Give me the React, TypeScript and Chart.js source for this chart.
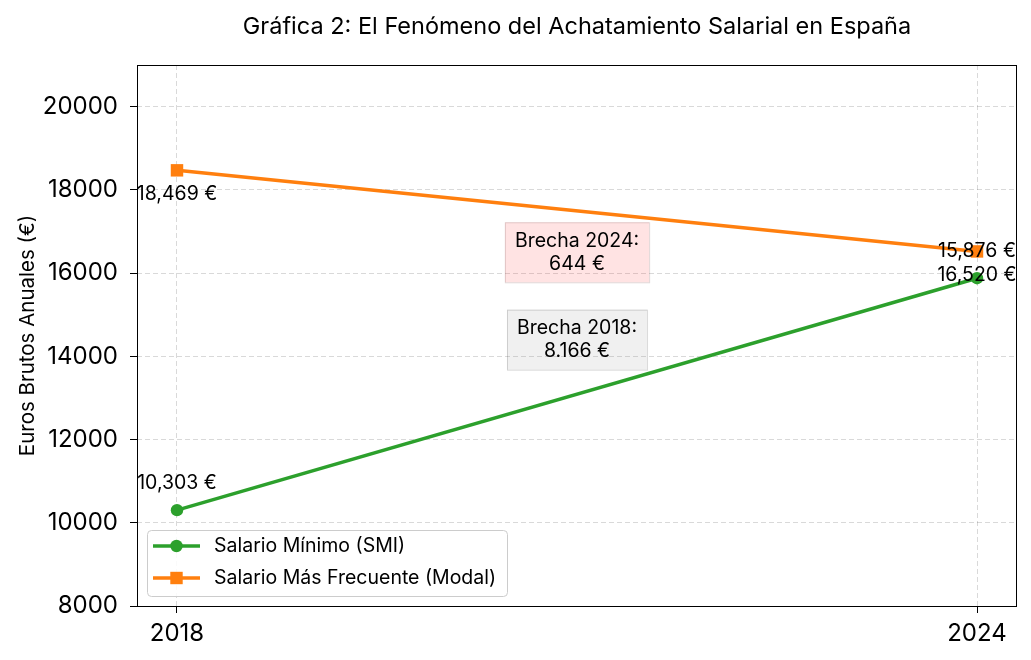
import { useEffect, useRef } from "react";
import { Chart, registerables } from "chart.js";

Chart.register(...registerables);

const FONT = "Inter, 'Noto Sans', 'DejaVu Sans', sans-serif";

const titleText = "Gráfica 2: El Fenómeno del Achatamiento Salarial en España";
const yAxisTitle = "Euros Brutos Anuales (€)";
const years = [2018, 2024];
const smiValues = [10303, 15876];
const modalValues = [18469, 16520];
const smiLabels = ["10,303 €", "15,876 €"];
const modalLabels = ["18,469 €", "16,520 €"];
const yTickValues = [8000, 10000, 12000, 14000, 16000, 18000, 20000];
const seriesNames = ["Salario Mínimo (SMI)", "Salario Más Frecuente (Modal)"];
const noteLines2024 = ["Brecha 2024:", "644 €"];
const noteLines2018 = ["Brecha 2018:", "8.166 €"];
const notePositions = [
  { x: 2021, y: 16500 },
  { x: 2021, y: 14400 },
];

const GREEN = "#2ca02c";
const ORANGE = "#ff7f0e";

const overlayPlugin = {
  id: "overlay",
  afterDatasetsDraw(chart: any) {
    const { ctx, chartArea: ca, scales } = chart;
    const xs = scales.x;
    const ys = scales.y;
    ctx.save();
    // frame
    ctx.strokeStyle = "#000";
    ctx.lineWidth = 1;
    ctx.strokeRect(Math.round(ca.left) + 0.5, Math.round(ca.top) + 0.5, Math.round(ca.right - ca.left) - 1, Math.round(ca.bottom - ca.top));

    // point labels
    ctx.fillStyle = "#000";
    ctx.font = `19.5px ${FONT}`;
    ctx.textAlign = "center";
    ctx.textBaseline = "middle";
    years.forEach((yr, i) => {
      const px = xs.getPixelForValue(yr);
      ctx.fillText(smiLabels[i], px, ys.getPixelForValue(smiValues[i]) - 27);
      ctx.fillText(modalLabels[i], px, ys.getPixelForValue(modalValues[i]) + 24);
    });

    // notes
    const notes = [
      { lines: noteLines2024, fill: "rgba(255,0,0,0.11)", stroke: "rgba(120,80,80,0.22)" },
      { lines: noteLines2018, fill: "rgba(128,128,128,0.12)", stroke: "rgba(0,0,0,0.15)" },
    ];
    ctx.font = `19.5px ${FONT}`;
    notes.forEach((n, i) => {
      const cx = xs.getPixelForValue(notePositions[i].x);
      const cy = ys.getPixelForValue(notePositions[i].y);
      const w = Math.max(...n.lines.map((l) => ctx.measureText(l).width)) + 20;
      const lh = 23;
      const h = lh * (n.lines.length - 1) + 37;
      ctx.fillStyle = n.fill;
      ctx.fillRect(cx - w / 2, cy - h / 2, w, h);
      ctx.strokeStyle = n.stroke;
      ctx.strokeRect(cx - w / 2 + 0.5, cy - h / 2 + 0.5, w, h);
      ctx.fillStyle = "#000";
      n.lines.forEach((l, k) => {
        ctx.fillText(l, cx, cy + (k - (n.lines.length - 1) / 2) * lh);
      });
    });

    // legend
    const lx = ca.left + 10;
    const lw = 360;
    const lh2 = 66;
    const ly = ca.bottom - 10 - lh2;
    ctx.fillStyle = "rgba(255,255,255,0.85)";
    ctx.strokeStyle = "#cccccc";
    ctx.lineWidth = 1;
    ctx.beginPath();
    ctx.roundRect(lx + 0.5, ly + 0.5, lw, lh2, 4);
    ctx.fill();
    ctx.stroke();
    ctx.font = `19.5px ${FONT}`;
    ctx.textAlign = "left";
    const colors = [GREEN, ORANGE];
    seriesNames.forEach((name, i) => {
      const ry = ly + 16 + i * 32;
      ctx.strokeStyle = colors[i];
      ctx.lineWidth = 3.5;
      ctx.beginPath();
      ctx.moveTo(lx + 6, ry);
      ctx.lineTo(lx + 53, ry);
      ctx.stroke();
      ctx.fillStyle = colors[i];
      if (i === 0) {
        ctx.beginPath();
        ctx.arc(lx + 29.5, ry, 6.2, 0, Math.PI * 2);
        ctx.fill();
      } else {
        ctx.fillRect(lx + 29.5 - 6.2, ry - 6.2, 12.4, 12.4);
      }
      ctx.fillStyle = "#000";
      ctx.fillText(name, lx + 67, ry);
    });

    // title
    ctx.font = `23.5px ${FONT}`;
    ctx.textAlign = "center";
    ctx.fillText(titleText, (ca.left + ca.right) / 2, 27);

    // y title
    ctx.font = `20.5px ${FONT}`;
    ctx.translate(28, (ca.top + ca.bottom) / 2);
    ctx.rotate(-Math.PI / 2);
    ctx.fillText(yAxisTitle, 0, 0);
    ctx.restore();
  },
};

export default function App() {
  const ref = useRef<HTMLCanvasElement>(null);
  useEffect(() => {
    if (!ref.current) return;
    const chart = new Chart(ref.current, {
      type: "line",
      data: {
        datasets: [
          {
            label: seriesNames[0],
            data: years.map((x, i) => ({ x, y: smiValues[i] })),
            borderColor: GREEN,
            backgroundColor: GREEN,
            borderWidth: 3.5,
            pointStyle: "circle",
            pointRadius: 6.2,
            pointBorderWidth: 0,
          },
          {
            label: seriesNames[1],
            data: years.map((x, i) => ({ x, y: modalValues[i] })),
            borderColor: ORANGE,
            backgroundColor: ORANGE,
            borderWidth: 3.5,
            pointStyle: "rect",
            pointRadius: 8.8,
            pointBorderWidth: 0,
          },
        ],
      },
      options: {
        animation: false,
        responsive: false,
        layout: { padding: { top: 65, right: 14, left: 0, bottom: 0 } },
        plugins: {
          legend: { display: false },
          title: { display: false },
          tooltip: { enabled: false },
        },
        scales: {
          x: {
            type: "linear",
            min: 2017.7,
            max: 2024.3,
            afterBuildTicks: (s: any) => {
              s.ticks = years.map((v) => ({ value: v }));
            },
            afterFit: (s: any) => {
              s.height = 54;
            },
            ticks: {
              callback: (v: any) => String(v),
              font: { family: FONT, size: 24 },
              color: "#000",
              padding: 6,
              maxRotation: 0,
            },
            grid: {
              color: "rgba(0,0,0,0.15)",
              tickColor: "#000",
              tickLength: 7,
              tickWidth: 1,
              tickBorderDash: [],
            },
            border: { display: false, dash: [5, 3] },
          },
          y: {
            min: 8000,
            max: 21000,
            afterBuildTicks: (s: any) => {
              s.ticks = yTickValues.map((v) => ({ value: v }));
            },
            afterFit: (s: any) => {
              s.width = 137;
            },
            ticks: {
              callback: (v: any) => String(v),
              font: { family: FONT, size: 24 },
              color: "#000",
              padding: 12,
            },
            grid: {
              color: "rgba(0,0,0,0.15)",
              tickColor: "#000",
              tickLength: 7,
              tickWidth: 1,
              tickBorderDash: [],
            },
            border: { display: false, dash: [5, 3] },
          },
        },
      },
      plugins: [overlayPlugin],
    } as any);
    return () => chart.destroy();
  }, []);
  return (
    <div style={{ position: "fixed", left: 0, top: 0, width: 1031, height: 660, background: "#fff" }}>
      <canvas ref={ref} width={1031} height={660} style={{ width: 1031, height: 660 }} />
    </div>
  );
}
